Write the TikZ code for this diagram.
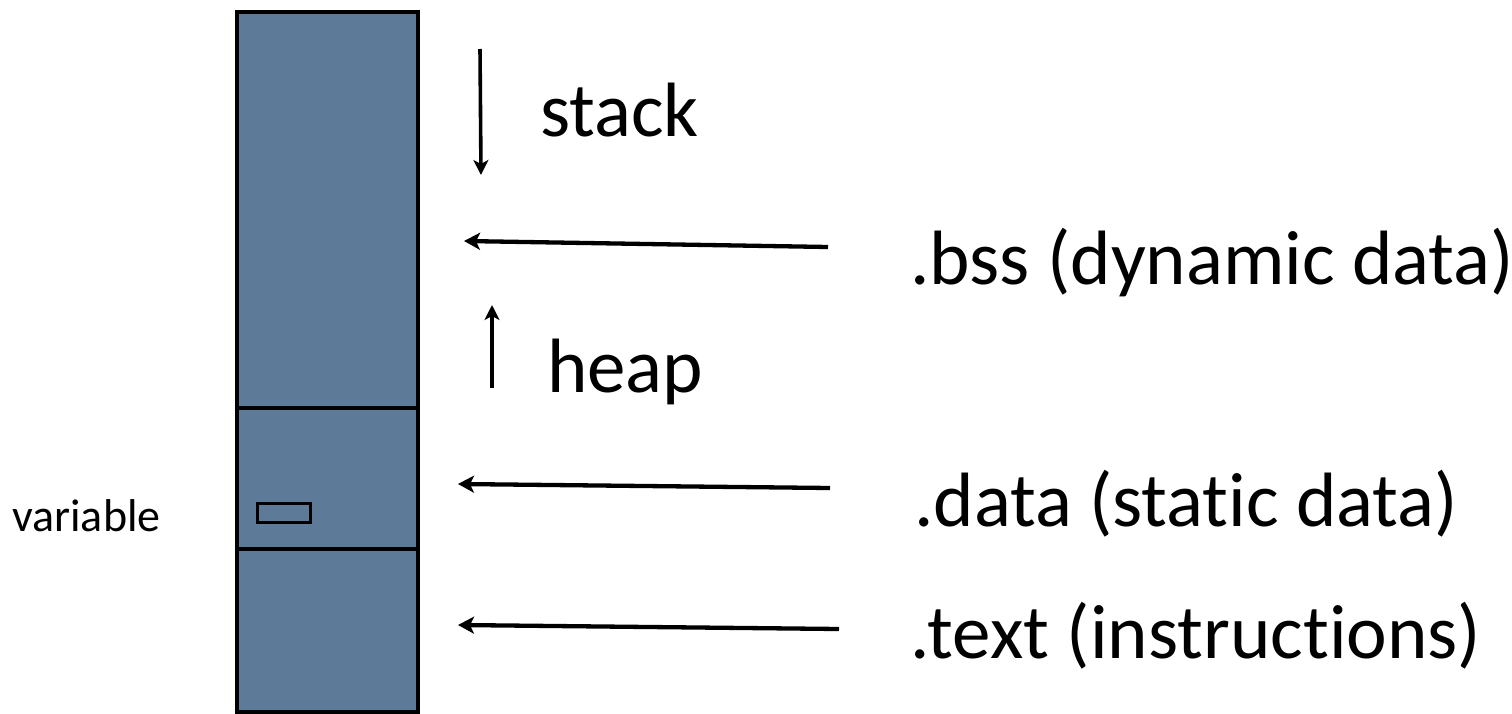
\documentclass[tikz,border=0pt]{standalone}
\usepackage{fontspec}
\setmainfont{Carlito}[Ligatures=NoCommon]
\usetikzlibrary{arrows.meta}
\definecolor{memblue}{RGB}{93,122,153}
\tikzset{
  seg/.style={draw=black, line width=4pt, fill=memblue},
  divider/.style={draw=black, line width=4pt},
  pointer/.style={line width=4.3pt, -{Stealth[length=16pt, width=17pt, inset=4pt]}},
  growth/.style={line width=3.6pt, -{Stealth[length=15pt, width=15pt, inset=4pt]}},
  biglabel/.style={anchor=base west, inner sep=0pt, font=\fontsize{77}{84}\selectfont},
  smalllabel/.style={anchor=base west, inner sep=0pt, font=\fontsize{46}{52}\selectfont}
}
\begin{document}
\begin{tikzpicture}[x=1pt, y=-1pt]
\useasboundingbox (0,0) rectangle (1512,714);

% memory column with its segments
\node[seg, minimum width=181pt, minimum height=700pt, inner sep=0pt, anchor=north west] (mem) at (235,10) {};
\coordinate (d1w) at (235,408); \coordinate (d1e) at (416,408);
\coordinate (d2w) at (235,549); \coordinate (d2e) at (416,549);
\draw[divider] (d1w) -- (d1e);
\draw[divider] (d2w) -- (d2e);
\node[draw=black, line width=3pt, minimum width=53pt, minimum height=19pt, inner sep=0pt, anchor=north west] (var) at (255.5,501.5) {};

% growth directions
\coordinate (stackA) at (480,49);  \coordinate (stackB) at (481,175);
\coordinate (heapA) at (492,388);  \coordinate (heapB) at (492,305);
\draw[growth] (stackA) -- (stackB);
\draw[growth] (heapA) -- (heapB);

% labels
\node[biglabel] (stack) at (540,137) {stack};
\node[biglabel] (heap) at (547,392) {heap};
\node[biglabel] (bss) at (910,284) {.bss (dynamic data)};
\node[biglabel] (data) at (914,526) {.data (static data)};
\node[biglabel] (text) at (910,658) {.text (instructions)};
\node[smalllabel] (varl) at (12,531) {variable};

% section pointers
\coordinate (bssT) at (828,247);  \coordinate (bssH) at (464,241);
\coordinate (dataT) at (830,488); \coordinate (dataH) at (458,484);
\coordinate (textT) at (839,629); \coordinate (textH) at (458,625);
\draw[pointer] (bssT) -- (bssH);
\draw[pointer] (dataT) -- (dataH);
\draw[pointer] (textT) -- (textH);
\end{tikzpicture}
\end{document}
